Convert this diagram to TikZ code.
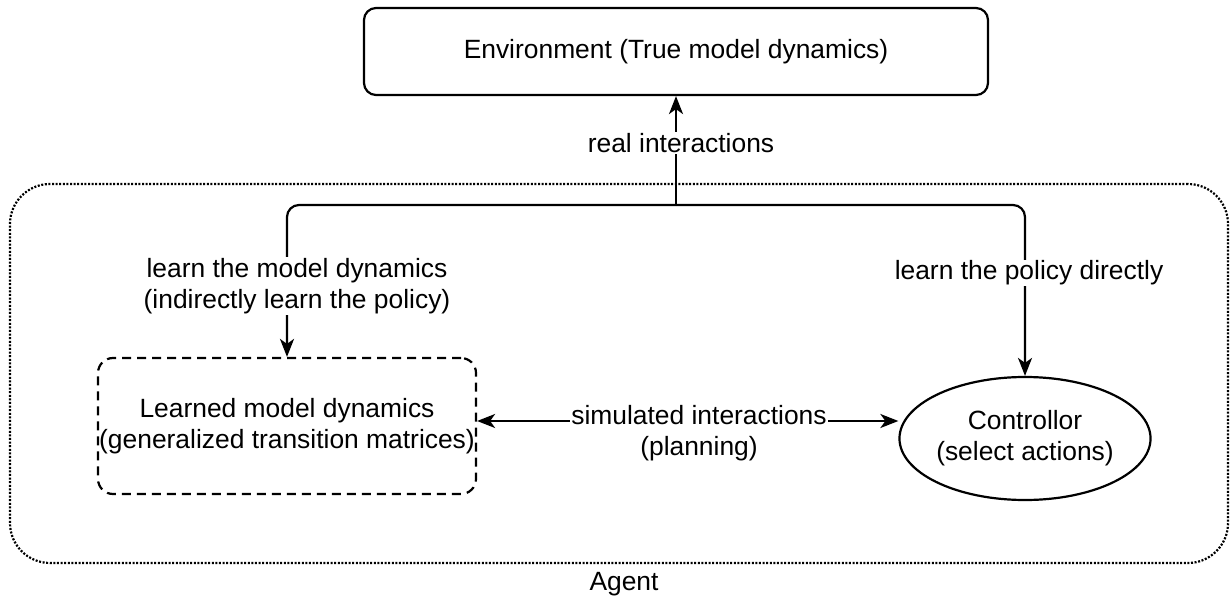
\documentclass[tikz,border=0pt]{standalone}
\usepackage{fontspec}
\setmainfont{Liberation Sans}
\usetikzlibrary{arrows.meta,shapes.geometric,calc}
\begin{document}
\begin{tikzpicture}[x=1pt,y=-1pt,
  every node/.style={font=\fontsize{26.4}{31}\selectfont, align=center, inner sep=0pt},
  box/.style={draw, line width=2.2pt, rounded corners=#1},
  tip/.style={Stealth[length=18pt,width=14pt,inset=5pt]},
  flow/.style={line width=2.2pt, -{Stealth[length=18pt,width=14pt,inset=5pt]}},
  lbl/.style={fill=white, inner sep=1pt}
]
\useasboundingbox (0,0) rectangle (1230,601);

% agent boundary
\node[box=40pt, dash pattern=on 2pt off 1.6pt, minimum width=1218pt, minimum height=379pt] (agent) at (619,373.5) {};
\node (agentlbl) at (624,584) {Agent};

% environment
\node[box=12pt, minimum width=624pt, minimum height=87pt] (env) at (676,51.5) {Environment (True model dynamics)};

% learned model and controller
\node[box=15pt, dash pattern=on 9pt off 6pt, minimum width=378pt, minimum height=136pt] (lmd) at (287,426)
  {Learned model dynamics\\(generalized transition matrices)};
\node[draw, ellipse, line width=2.2pt, minimum width=246pt, minimum height=123pt] (ctrl) at (1025,438.5)
  {Controllor\\(select actions)};

% branching of the real interactions
\coordinate (split) at (676,205);
\draw[flow] (split) -- (env.south);
\draw[flow, rounded corners=12pt] (split) -| (lmd.north);
\draw[flow, rounded corners=12pt] (split) -| (ctrl.north);
\draw[line width=2.2pt, {Stealth[length=18pt,width=14pt,inset=5pt]}-{Stealth[length=18pt,width=14pt,inset=5pt]}]
  ([yshift=5pt]lmd.east) -- ([yshift=5pt]lmd.east -| ctrl.west);

% connector labels
\node[lbl] (real) at (681,143) {real interactions};
\node[lbl] (model) at (297,286) {learn the model dynamics\\(indirectly learn the policy)};
\node[lbl] (direct) at (1029,273) {learn the policy directly};
\node[lbl] (sim) at (699,433) {simulated interactions\\(planning)};
\end{tikzpicture}
\end{document}
